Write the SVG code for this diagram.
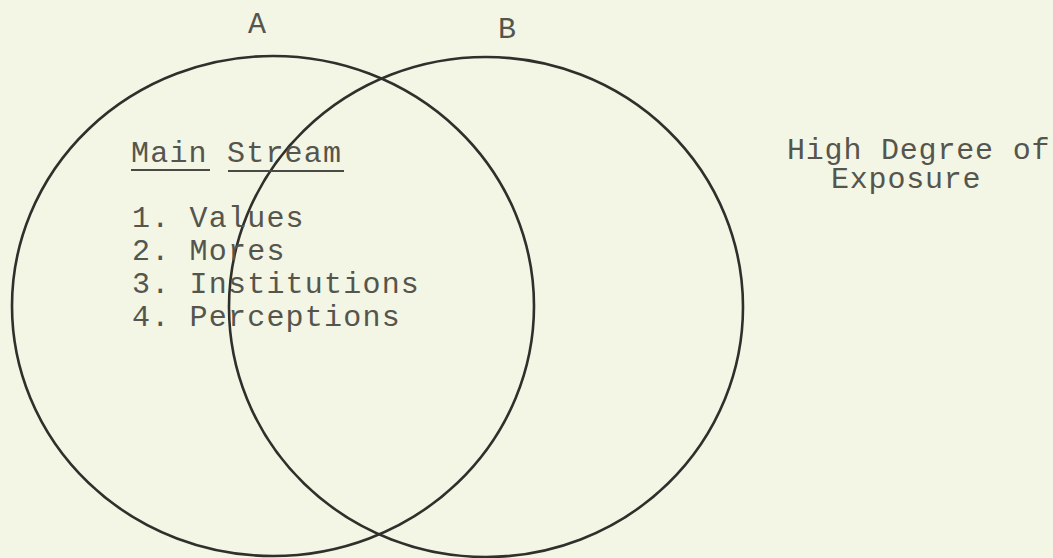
<svg xmlns="http://www.w3.org/2000/svg" width="1053" height="558" viewBox="0 0 1053 558">
  <style>
    .t { font-family: "Liberation Mono", "DejaVu Sans Mono", monospace; font-size: 30px; fill: #55554d; letter-spacing: 1.2px; }
    .s { letter-spacing: 0.8px; }
    .c { fill: none; stroke: #2f2f2b; stroke-width: 2.6; }
    .u { stroke: #4a4a44; stroke-width: 2; }
  </style>
  <rect width="1053" height="558" fill="#f3f5e5"/>
  <g id="circle-A">
    <ellipse class="c" cx="273" cy="306" rx="261" ry="250"/>
    <text class="t" x="248" y="33">A</text>
  </g>
  <g id="circle-B">
    <ellipse class="c" cx="486" cy="307" rx="257" ry="250"/>
    <text class="t" x="498" y="38">B</text>
  </g>
  <g id="main-stream">
    <text class="t" x="131" y="162">Main Stream</text>
    <line class="u" x1="131" y1="170" x2="210" y2="170"/>
    <line class="u" x1="228" y1="171" x2="344" y2="171"/>
    <text class="t" x="132" y="227">1. Values</text>
    <text class="t" x="132" y="260">2. Mores</text>
    <text class="t" x="132" y="293">3. Institutions</text>
    <text class="t" x="132" y="326">4. Perceptions</text>
  </g>
  <g id="exposure-label">
    <text class="t s"><tspan x="787" y="159">High Degree of</tspan><tspan x="831" y="188">Exposure</tspan></text>
  </g>
  <g id="connectors"></g>
</svg>
